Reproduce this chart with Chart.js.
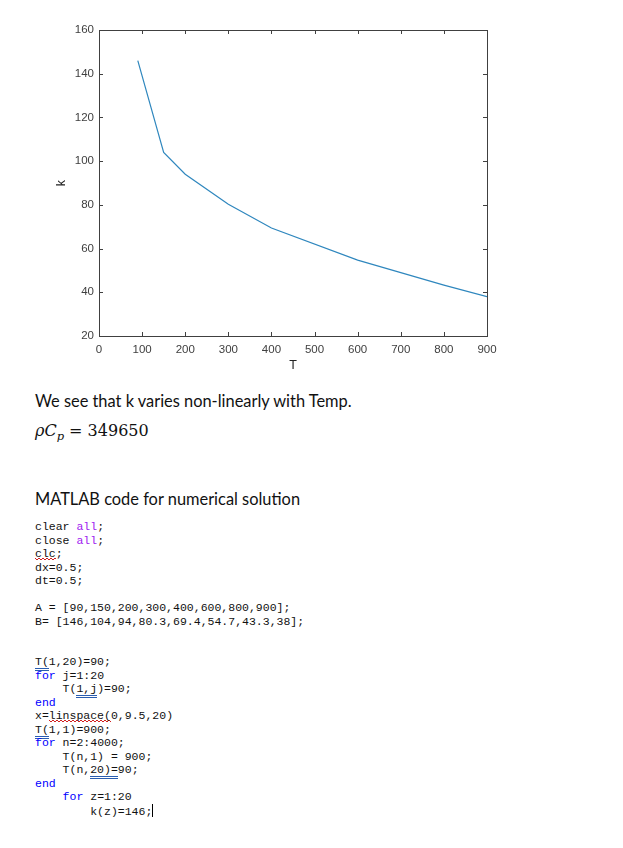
<!DOCTYPE html>
<html>
<head>
<meta charset="utf-8">
<script src="https://cdn.jsdelivr.net/npm/chart.js@4.4.0/dist/chart.umd.min.js"></script>
<style>
  html, body { margin:0; padding:0; background:#fff; }
  body { width:623px; height:848px; position:relative; overflow:hidden; }
  #wrap { position:absolute; left:0; top:0; width:623px; height:375px; }
  .txt { position:absolute; left:35px; font-family:"Lato","Open Sans",sans-serif; font-size:16.4px; color:#111; white-space:nowrap; }
  .math { position:absolute; left:35px; top:421px; font-family:"DejaVu Serif","Liberation Serif",serif; font-size:16px; color:#111; white-space:nowrap; }
  .math i { font-style:italic; }
  .math sub { font-size:11.5px; font-style:italic; vertical-align:-4px; }
  pre { position:absolute; left:35px; top:520px; margin:0; font-family:"Liberation Mono","DejaVu Sans Mono",monospace; font-size:11.5px; line-height:13.5px; color:#111; }
  .kw { color:#0000FF; }
  .str { color:#A020F0; }
  .wv { background-image: radial-gradient(circle at 2px 0px, transparent 1.2px, #d02020 1.3px, #d02020 1.8px, transparent 2px); background-size:4px 3px; background-repeat:repeat-x; background-position:0 100%; padding-bottom:1px; }
  .du { border-bottom:3px double #2a5db0; }
  .cur { display:inline-block; width:0; height:13px; border-left:1px solid #000; vertical-align:-2px; }
</style>
</head>
<body>
<div id="wrap"><canvas id="c"></canvas></div>

<div class="txt" style="top:391px">We see that k varies non-linearly with Temp.</div>
<div class="math"><i>ρC</i><sub>p</sub> = 349650</div>
<div class="txt" style="top:489px">MATLAB code for numerical solution</div>

<pre>clear <span class="str">all</span>;
close <span class="str">all</span>;
<span class="wv">clc</span>;
dx=0.5;
dt=0.5;

A = [90,150,200,300,400,600,800,900];
B= [146,104,94,80.3,69.4,54.7,43.3,38];


<span class="du">T(</span>1,20)=90;
<span class="kw">for</span> j=1:20
    T(<span class="du">1,j</span>)=90;
<span class="kw">end</span>
x=<span class="wv">linspace(</span>0,9.5,20)
<span class="du">T(</span>1,1)=900;
<span class="kw">for</span> n=2:4000;
    T(n,1) = 900;
    T(n,<span class="du">20)=</span>90;
<span class="kw">end</span>
    <span class="kw">for</span> z=1:20
        k(z)=146;<span class="cur"></span></pre>

<script>
const T_values = [90,150,200,300,400,600,800,900];
const k_values = [146,104,94,80.3,69.4,54.7,43.3,38];
const xTicks = [0,100,200,300,400,500,600,700,800,900];
const yTicks = [20,40,60,80,100,120,140,160];

const axisColor = '#404040';
const tickFont = { family:'"Liberation Sans", Arial, sans-serif', size:11.5 };

const boxPlugin = {
  id:'box',
  afterDraw(chart){
    const {ctx, chartArea:a, scales:{x,y}} = chart;
    ctx.save();
    ctx.strokeStyle = axisColor;
    ctx.lineWidth = 1;
    ctx.strokeRect(Math.round(a.left)+0.5, Math.round(a.top)+0.5, Math.round(a.right-a.left), Math.round(a.bottom-a.top));
    const L = 4;
    ctx.beginPath();
    xTicks.forEach(v=>{
      const px = Math.round(x.getPixelForValue(v))+0.5;
      ctx.moveTo(px, a.bottom); ctx.lineTo(px, a.bottom-L);
      ctx.moveTo(px, a.top); ctx.lineTo(px, a.top+L);
    });
    yTicks.forEach(v=>{
      const py = Math.round(y.getPixelForValue(v))+0.5;
      ctx.moveTo(a.left, py); ctx.lineTo(a.left+L, py);
      ctx.moveTo(a.right, py); ctx.lineTo(a.right-L, py);
    });
    ctx.stroke();
    ctx.restore();
  }
};

new Chart(document.getElementById('c'), {
  type:'line',
  data:{
    datasets:[{
      data: T_values.map((t,i)=>({x:t, y:k_values[i]})),
      borderColor:'#2f87be',
      borderWidth:1.2,
      pointRadius:0,
      tension:0,
      fill:false
    }]
  },
  options:{
    responsive:true,
    maintainAspectRatio:false,
    animation:false,
    devicePixelRatio:1,
    layout:{ padding:{ left:52, top:30, right:136, bottom:0 } },
    plugins:{ legend:{display:false}, tooltip:{enabled:false} },
    scales:{
      x:{
        type:'linear', min:0, max:900,
        afterBuildTicks(s){ s.ticks = xTicks.map(v=>({value:v})); },
        afterFit(s){ s.height = 39; },
        grid:{ display:false, drawTicks:false },
        border:{ display:false },
        ticks:{ color:axisColor, font:tickFont, padding:7, maxRotation:0 },
        title:{ display:true, text:'T', color:'#222', font:{ family:'"Liberation Sans", Arial, sans-serif', size:12.5 }, padding:{top:0,bottom:2} }
      },
      y:{
        type:'linear', min:20, max:160,
        afterBuildTicks(s){ s.ticks = yTicks.map(v=>({value:v})); },
        afterFit(s){ s.width = 47; },
        grid:{ display:false, drawTicks:false },
        border:{ display:false },
        ticks:{ color:axisColor, font:tickFont, padding:5 },
        title:{ display:true, text:'k', color:'#222', font:{ family:'"Liberation Sans", Arial, sans-serif', size:12.5 }, padding:{top:2,bottom:0} }
      }
    }
  },
  plugins:[boxPlugin]
});
</script>
</body>
</html>
